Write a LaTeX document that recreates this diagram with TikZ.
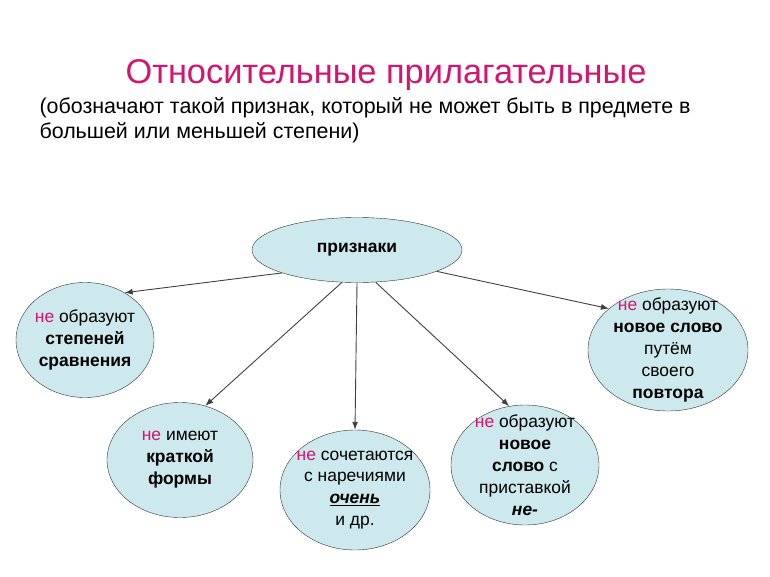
\documentclass[tikz,border=0pt]{standalone}
\usepackage{fontspec}
\setmainfont{Liberation Sans}
\usetikzlibrary{shapes.geometric,arrows.meta}
\definecolor{ne}{HTML}{D4146E}
\definecolor{bubble}{HTML}{CDE9EE}
\newcommand{\Ne}{\textcolor{ne}{не}}
\tikzset{
  bubble/.style={draw=black!80,fill=bubble,ellipse,inner sep=-9bp,align=center,font=\fontsize{17.5}{22}\selectfont},
  link/.style={-{Latex[length=8bp,width=6bp]},black!75,line width=0.9bp}
}
\begin{document}
\begin{tikzpicture}[x=1bp,y=-1bp]
\useasboundingbox (0,0) rectangle (770,577);
%%
\node (title) at (386,75) [font=\fontsize{34.5}{40}\selectfont,text=ne] {Относительные прилагательные};
\node (sub) at (36,120) [anchor=west,align=left,font=\fontsize{21.5}{25}\selectfont] {(обозначают такой признак, который не может быть в предмете в\\большей или меньшей степени)};
\node (sign) at (357,250) [bubble,inner sep=0pt,minimum width=210bp,minimum height=65bp] {\textbf{признаки}};
\node (deg) at (85,340) [bubble,minimum width=138bp,minimum height=115bp] {\Ne{} образуют\\\textbf{степеней}\\\textbf{сравнения}};
\node (short) at (180,460) [bubble,minimum width=146bp,minimum height=115bp] {\Ne{} имеют\\\textbf{краткой}\\\textbf{формы}};
\node (adv) at (355,490) [bubble,minimum width=150bp,minimum height=120bp] {\Ne{} сочетаются\\с наречиями\\\underline{\textbf{\textit{очень}}}\\и др.};
\node (pref) at (525,465) [bubble,minimum width=148bp,minimum height=120bp] {\Ne{} образуют\\\textbf{новое}\\\textbf{слово} с\\приставкой\\\textbf{\textit{не-}}};
\node (rep) at (668,350) [bubble,minimum width=160bp,minimum height=122bp] {\Ne{} образуют\\\textbf{новое слово}\\путём\\своего\\\textbf{повтора}};
\draw [link] (sign.197) -- (deg.50);
\draw [link] (sign.245) -- (short.65);
\draw [link] (sign.270) -- (adv.north);
\draw [link] (sign.300) -- (pref.105);
\draw [link] (sign.345) -- (rep.145);
%
\end{tikzpicture}
\end{document}
